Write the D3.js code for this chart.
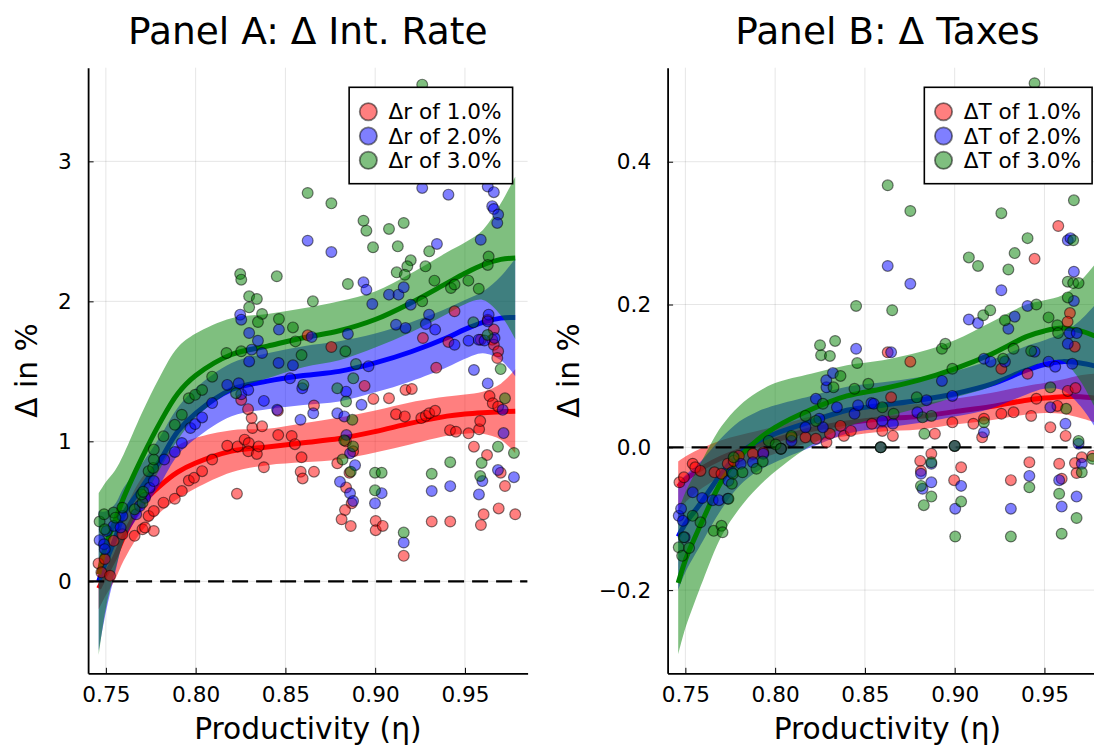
<!DOCTYPE html>
<html>
<head>
<meta charset="utf-8">
<script src="https://cdn.jsdelivr.net/npm/d3@7"></script>
<style>
    body { margin: 0; background: #fff; }
    svg { display: block; font-family: "DejaVu Sans", sans-serif; }
</style>
</head>
<body>
<div id="chart"></div>
<script>
// ---------- data ----------
const seriesColors = ["#ff0000", "#0000ff", "#008000"];
const rateLabels = ["Δr of 1.0%", "Δr of 2.0%", "Δr of 3.0%"];
const taxLabels = ["ΔT of 1.0%", "ΔT of 2.0%", "ΔT of 3.0%"];

const etaTicks = [0.75, 0.80, 0.85, 0.90, 0.95];
const rateTicks = [0, 1, 2, 3];
const taxTicks = [-0.2, 0.0, 0.2, 0.4];

// smoothed fits: mean and half width of the ribbon at these productivity knots
const etaKnots = [0.746, 0.75, 0.755, 0.76, 0.77, 0.78, 0.79, 0.80, 0.82, 0.84, 0.86, 0.88, 0.90, 0.92, 0.94, 0.95, 0.96, 0.97, 0.978];

const rateFit1 = [-0.05, 0.05, 0.17, 0.32, 0.55, 0.68, 0.78, 0.845, 0.93, 0.96, 0.99, 1.02, 1.07, 1.13, 1.18, 1.195, 1.205, 1.212, 1.215];
const rateBand1 = [0.15, 0.15, 0.16, 0.17, 0.19, 0.19, 0.19, 0.18, 0.15, 0.13, 0.14, 0.15, 0.15, 0.15, 0.14, 0.14, 0.15, 0.20, 0.30];
const rateFit2 = [0.0, 0.14, 0.30, 0.48, 0.67, 0.86, 1.07, 1.20, 1.37, 1.43, 1.47, 1.50, 1.56, 1.64, 1.74, 1.80, 1.85, 1.88, 1.885];
const rateBand2 = [0.50, 0.36, 0.25, 0.19, 0.17, 0.17, 0.17, 0.18, 0.19, 0.20, 0.21, 0.215, 0.21, 0.21, 0.21, 0.21, 0.22, 0.30, 0.42];
const rateFit3 = [0.05, 0.26, 0.43, 0.60, 0.88, 1.13, 1.34, 1.47, 1.62, 1.68, 1.74, 1.79, 1.87, 1.99, 2.13, 2.20, 2.26, 2.30, 2.31];
const rateBand3 = [0.58, 0.45, 0.36, 0.31, 0.32, 0.33, 0.33, 0.30, 0.26, 0.23, 0.21, 0.21, 0.20, 0.21, 0.22, 0.22, 0.25, 0.40, 0.58];

const taxFit1 = [-0.055, -0.045, -0.036, -0.028, -0.015, -0.005, 0.003, 0.010, 0.025, 0.034, 0.040, 0.043, 0.050, 0.057, 0.066, 0.069, 0.071, 0.071, 0.069];
const taxBand1 = [0.035, 0.032, 0.030, 0.028, 0.025, 0.022, 0.020, 0.019, 0.018, 0.018, 0.018, 0.018, 0.018, 0.019, 0.020, 0.021, 0.024, 0.030, 0.034];
const taxFit2 = [-0.125, -0.107, -0.090, -0.073, -0.037, -0.009, 0.008, 0.019, 0.036, 0.052, 0.059, 0.066, 0.075, 0.088, 0.108, 0.116, 0.120, 0.118, 0.114];
const taxBand2 = [0.075, 0.068, 0.062, 0.057, 0.050, 0.045, 0.042, 0.040, 0.036, 0.033, 0.032, 0.032, 0.032, 0.034, 0.034, 0.034, 0.040, 0.060, 0.085];
const taxFit3 = [-0.19, -0.158, -0.128, -0.10, -0.048, -0.014, 0.010, 0.028, 0.053, 0.072, 0.082, 0.094, 0.110, 0.130, 0.155, 0.163, 0.167, 0.163, 0.156];
const taxBand3 = [0.10, 0.095, 0.09, 0.085, 0.077, 0.072, 0.067, 0.062, 0.050, 0.043, 0.040, 0.039, 0.040, 0.045, 0.045, 0.043, 0.046, 0.070, 0.10];

// simulated observations [productivity, change]
const rateObs1 = [
    [0.7459,0.128],[0.7475,0.064],[0.7494,0.159],[0.7523,0.04],[0.7543,0.289],[0.7592,0.336],[0.766,0.325],[0.7704,0.372],
    [0.7718,0.384],[0.7767,0.36],[0.7738,0.467],[0.7767,0.502],[0.7821,0.562],[0.7884,0.59],[0.7923,0.645],[0.7962,0.72],
    [0.7991,0.739],[0.8036,0.787],[0.8092,0.87],[0.8176,0.969],[0.823,0.626],[0.8234,0.964],[0.8273,1.012],[0.8296,0.988],
    [0.8293,0.929],[0.8341,0.91],[0.8351,0.964],[0.8316,1.095],[0.8312,1.166],[0.8292,1.23],[0.8254,1.296],[0.837,1.107],
    [0.838,0.815],[0.8458,1.218],[0.846,1.045],[0.8535,1.038],[0.8553,0.98],[0.859,0.886],[0.8585,0.783],[0.8596,0.735],
    [0.8659,0.783],[0.8659,1.256],[0.8624,1.757],[0.8756,1.674],[0.8789,0.843],[0.8857,0.775],[0.8838,0.67],[0.8869,0.557],
    [0.8832,0.509],[0.8813,0.443],[0.8864,0.395],[0.8877,0.929],[0.8837,1.0],[0.8941,1.396],[0.899,1.303],[0.9003,0.431],
    [0.9003,0.365],[0.9042,0.396],[0.9077,1.308],[0.9116,1.194],[0.9165,1.178],[0.9159,0.182],[0.9169,1.367],[0.9204,1.374],
    [0.9257,1.166],[0.9282,1.182],[0.9301,1.201],[0.9334,1.218],[0.9266,1.738],[0.9315,0.427],[0.934,1.526],[0.9418,0.427],
    [0.9408,1.71],[0.9442,1.929],[0.9417,1.08],[0.945,1.069],[0.952,1.057],[0.9579,1.086],[0.9585,1.145],[0.955,0.962],
    [0.9623,0.902],[0.9604,0.479],[0.9589,0.402],[0.9588,1.726],[0.9627,1.869],[0.9661,1.798],[0.9652,1.726],[0.9661,1.69],
    [0.9685,1.643],[0.968,1.595],[0.9637,1.323],[0.9655,1.272],[0.9685,1.249],[0.9699,0.776],[0.9723,0.681],[0.9688,0.521],
    [0.978,0.479]
];
const rateObs2 = [
    [0.7465,0.294],[0.749,0.265],[0.7494,0.23],[0.7504,0.36],[0.7543,0.396],[0.7582,0.384],[0.7592,0.467],[0.7669,0.479],
    [0.7689,0.538],[0.7718,0.597],[0.7743,0.668],[0.7767,0.716],[0.7825,0.87],[0.7884,0.924],[0.7923,0.988],[0.7971,1.095],
    [0.7997,1.123],[0.8036,1.171],[0.8092,1.273],[0.8176,1.403],[0.824,1.415],[0.8254,1.336],[0.8293,1.367],[0.838,1.289],
    [0.8454,1.225],[0.8526,1.45],[0.8584,1.154],[0.8594,1.379],[0.8655,1.2],[0.8789,1.2],[0.8828,1.178],[0.884,1.045],
    [0.886,0.914],[0.8888,0.83],[0.8804,0.711],[0.886,0.629],[0.8877,0.573],[0.8924,1.261],[0.8838,1.355],[0.8999,0.557],
    [0.9036,0.63],[0.9159,0.277],[0.9315,0.645],[0.9418,0.68],[0.9578,0.621],[0.9597,0.716],[0.9684,0.795],[0.9773,0.744],
    [0.971,1.225],[0.9715,1.059],[0.9627,1.414],[0.955,1.51],[0.8624,2.433],[0.8756,2.352],[0.9262,2.81],[0.9408,2.762],
    [0.9627,2.82],[0.9661,2.78],[0.9652,2.68],[0.9661,2.66],[0.9685,2.62],[0.968,2.56],[0.9344,2.41],[0.9588,2.44],
    [0.8935,2.136],[0.8951,2.083],[0.9077,2.048],[0.913,2.048],[0.9159,2.10],[0.9198,1.976],[0.8984,1.981],[0.93,1.905],
    [0.8248,1.905],[0.8254,1.869],[0.9116,1.833],[0.9169,1.81],[0.9282,1.838],[0.8848,1.767],[0.9334,1.798],[0.9442,1.69],
    [0.952,1.719],[0.9577,1.726],[0.9609,1.72],[0.9632,1.905],[0.9627,1.857],[0.9665,1.738],[0.8464,1.798],[0.8646,1.745],
    [0.8298,1.774],[0.8347,1.719],[0.8312,1.655],[0.837,1.631],[0.8298,1.571],[0.8462,1.56],[0.8542,1.543],[0.8963,1.536]
];
const rateObs3 = [
    [0.7465,0.427],[0.749,0.479],[0.7494,0.372],[0.7543,0.491],[0.7553,0.455],[0.7592,0.526],[0.766,0.514],[0.7704,0.562],
    [0.7698,0.621],[0.7708,0.64],[0.7738,0.787],[0.7763,0.81],[0.7767,0.87],[0.7767,0.941],[0.7821,1.036],[0.7884,1.118],
    [0.7923,1.19],[0.7962,1.308],[0.7997,1.332],[0.8036,1.367],[0.8092,1.462],[0.8225,1.344],[0.86,1.403],[0.8789,1.379],
    [0.8838,1.284],[0.8873,1.154],[0.8828,1.007],[0.8877,0.964],[0.8818,0.87],[0.8864,0.783],[0.8999,0.776],[0.9036,0.776],
    [0.8999,0.65],[0.9159,0.348],[0.9315,0.768],[0.9418,0.851],[0.9593,0.846],[0.9585,0.752],[0.9684,0.962],[0.9723,1.307],
    [0.9773,0.917],[0.9699,1.516],[0.9547,1.85],[0.9626,1.76],[0.8624,2.774],[0.8756,2.70],[0.9262,3.548],[0.8935,2.576],
    [0.8951,2.505],[0.9077,2.517],[0.9159,2.56],[0.8988,2.386],[0.9126,2.393],[0.9198,2.293],[0.9179,2.25],[0.9301,2.357],
    [0.912,2.207],[0.928,2.25],[0.9165,2.19],[0.8452,2.179],[0.8248,2.195],[0.8254,2.155],[0.8848,2.124],[0.933,2.148],
    [0.9262,2.0],[0.8653,2.0],[0.8298,2.036],[0.8341,2.017],[0.8298,1.957],[0.837,1.91],[0.8347,1.852],[0.8464,1.874],
    [0.8542,1.814],[0.8556,1.714],[0.8834,1.643],[0.8172,1.631],[0.8254,1.643],[0.859,1.616],[0.8878,1.45],[0.8893,1.552],
    [0.9422,2.095],[0.9519,2.148],[0.9577,2.09],[0.9442,2.12],[0.9632,2.32],[0.9627,2.26]
];

const taxObs1 = [
    [0.7467,-0.049],[0.7492,-0.042],[0.7541,-0.023],[0.7555,-0.028],[0.7584,-0.033],[0.7662,-0.035],[0.7701,-0.037],[0.7736,-0.023],
    [0.7769,-0.019],[0.7798,-0.012],[0.7876,-0.009],[0.7934,-0.007],[0.8032,-0.002],[0.8091,0.014],[0.8169,0.014],[0.8227,0.012],
    [0.8286,0.007],[0.8305,0.019],[0.8364,0.03],[0.8383,0.016],[0.8422,0.023],[0.8539,0.033],[0.8588,0.0],[0.8597,0.023],
    [0.8656,0.016],[0.8646,0.07],[0.8627,0.133],[0.8753,0.12],[0.8808,-0.019],[0.8812,-0.033],[0.887,-0.009],[0.889,0.019],
    [0.8987,0.035],[0.9,0.002],[0.8997,-0.046],[0.9036,-0.028],[0.9104,0.033],[0.9153,0.014],[0.9163,0.04],[0.926,0.047],
    [0.926,0.11],[0.9313,-0.046],[0.9328,0.049],[0.9416,-0.021],[0.9426,0.044],[0.9406,0.103],[0.9445,0.264],[0.9455,0.068],
    [0.9533,0.028],[0.9572,0.058],[0.9577,0.31],[0.9582,-0.023],[0.9596,-0.044],[0.9618,0.016],[0.963,0.079],[0.9642,0.188],
    [0.9629,0.176],[0.9669,0.141],[0.9673,0.083],[0.9679,-0.036],[0.9708,-0.014],[0.9767,-0.012],[0.967,-0.022]
];
const taxObs2 = [
    [0.7463,-0.096],[0.7486,-0.103],[0.7476,-0.086],[0.7496,-0.126],[0.7541,-0.063],[0.7594,-0.071],[0.7652,-0.074],[0.7687,-0.074],
    [0.7736,-0.072],[0.774,-0.047],[0.7759,-0.035],[0.7808,-0.023],[0.7876,-0.021],[0.7934,-0.009],[0.8032,-0.002],[0.8091,0.009],
    [0.8169,0.028],[0.8227,0.068],[0.8246,0.04],[0.8266,0.028],[0.8286,0.084],[0.8285,0.094],[0.8322,0.104],[0.8344,0.056],
    [0.8442,0.047],[0.8462,0.059],[0.8451,0.138],[0.8536,0.062],[0.8549,0.061],[0.8588,0.0],[0.8597,0.037],[0.8656,0.033],
    [0.8646,0.133],[0.8627,0.254],[0.8753,0.229],[0.8792,0.049],[0.8843,0.066],[0.8812,-0.037],[0.8821,-0.058],[0.887,-0.049],
    [0.887,-0.023],[0.8929,0.093],[0.8987,0.072],[0.9,0.002],[0.9003,-0.086],[0.9036,-0.054],[0.9079,0.179],[0.913,0.174],
    [0.9163,0.021],[0.9163,0.124],[0.92,0.12],[0.926,0.22],[0.928,0.12],[0.9299,0.166],[0.9313,-0.086],[0.9334,0.183],
    [0.9406,0.198],[0.9416,-0.04],[0.9445,0.134],[0.9523,0.12],[0.9533,0.056],[0.956,0.113],[0.9582,-0.046],[0.9596,-0.083],
    [0.9617,0.033],[0.963,0.29],[0.9645,0.293],[0.9664,0.246],[0.9664,0.205],[0.964,0.16],[0.968,0.16],[0.963,0.145],
    [0.9655,0.117],[0.9679,-0.069],[0.9708,-0.023],[0.969,0.005]
];
const taxObs3 = [
    [0.7463,-0.14],[0.7482,-0.152],[0.7521,-0.141],[0.7491,-0.126],[0.7541,-0.096],[0.7584,-0.105],[0.7658,-0.117],[0.7701,-0.11],
    [0.7707,-0.119],[0.774,-0.072],[0.7759,-0.051],[0.7765,-0.037],[0.7769,-0.014],[0.7818,-0.035],[0.7896,-0.03],[0.7931,-0.02],
    [0.7964,0.009],[0.8003,0.004],[0.8032,-0.002],[0.8091,0.016],[0.8169,0.044],[0.8227,0.037],[0.8266,0.061],[0.8325,0.084],
    [0.8364,0.1],[0.825,0.143],[0.8256,0.129],[0.8305,0.128],[0.8334,0.149],[0.8442,0.082],[0.8457,0.118],[0.8451,0.198],
    [0.8519,0.089],[0.8588,0.0],[0.8597,0.056],[0.866,0.047],[0.8627,0.367],[0.8652,0.192],[0.8753,0.331],[0.8789,0.07],
    [0.8821,0.042],[0.8831,0.019],[0.887,0.044],[0.8812,-0.054],[0.8828,-0.081],[0.887,-0.069],[0.887,-0.021],[0.8929,0.138],
    [0.8948,0.145],[0.8987,0.11],[0.9,0.002],[0.9003,-0.125],[0.9036,-0.076],[0.9079,0.266],[0.913,0.254],[0.9159,0.185],
    [0.9163,0.035],[0.9198,0.192],[0.926,0.328],[0.927,0.124],[0.928,0.178],[0.9299,0.249],[0.9313,-0.125],[0.9328,0.138],
    [0.9334,0.272],[0.9406,0.293],[0.9416,-0.056],[0.9426,0.135],[0.9445,0.51],[0.9455,0.2],[0.9523,0.182],[0.9533,0.084],
    [0.9572,0.171],[0.9576,0.16],[0.9582,-0.065],[0.9596,-0.121],[0.9621,0.054],[0.966,0.29],[0.963,0.232],[0.966,0.23],
    [0.969,0.23],[0.963,0.21],[0.9664,0.346],[0.9679,-0.099],[0.9708,-0.035],[0.969,0.009],[0.9767,-0.016]
];

// ---------- layout ----------
const width = 1094, height = 748;
const plotTop = 67.7, plotBottom = 673.3, plotW = 439.5;
const etaDomain = [0.7401, 0.9849];
const font = {title: 37.5, guide: 29.7, tick: 21.6, legend: 21.6};

const svg = d3.select("#chart")
    .append("svg")
    .attr("width", width)
    .attr("height", height);

function drawPanel(p) {
    const x = d3.scaleLinear().domain(etaDomain).range([p.left, p.left + plotW]);
    const y = d3.scaleLinear().domain(p.yDomain).range([plotBottom, plotTop]);
    const g = svg.append("g");

    const clipId = "clip-" + p.id;
    svg.append("clipPath").attr("id", clipId)
        .append("rect")
        .attr("x", p.left).attr("y", plotTop)
        .attr("width", plotW).attr("height", plotBottom - plotTop);

    // grid
    g.append("g").selectAll("line")
        .data(etaTicks).join("line")
        .attr("x1", d => x(d)).attr("x2", d => x(d))
        .attr("y1", plotTop).attr("y2", plotBottom)
        .attr("stroke", "rgba(0,0,0,0.1)").attr("stroke-width", 1);
    g.append("g").selectAll("line")
        .data(p.yTicks).join("line")
        .attr("x1", p.left).attr("x2", p.left + plotW)
        .attr("y1", d => y(d)).attr("y2", d => y(d))
        .attr("stroke", "rgba(0,0,0,0.1)").attr("stroke-width", 1);

    const plotArea = g.append("g").attr("clip-path", `url(#${clipId})`);

    // ribbons + fitted lines
    const area = d3.area()
        .x(d => x(d.eta))
        .y0(d => y(d.m - d.h))
        .y1(d => y(d.m + d.h))
        .curve(d3.curveCatmullRom);
    const line = d3.line()
        .x(d => x(d.eta))
        .y(d => y(d.m))
        .curve(d3.curveCatmullRom);

    p.fits.forEach((f, i) => {
        const rows = etaKnots.map((eta, k) => ({eta: eta, m: f[0][k], h: f[1][k]}));
        plotArea.append("path")
            .attr("d", area(rows))
            .attr("fill", seriesColors[i])
            .attr("fill-opacity", 0.5);
        plotArea.append("path")
            .attr("d", line(rows))
            .attr("fill", "none")
            .attr("stroke", seriesColors[i])
            .attr("stroke-width", 5);
    });

    // zero line
    plotArea.append("line")
        .attr("x1", p.left).attr("x2", p.left + plotW)
        .attr("y1", y(0)).attr("y2", y(0))
        .attr("stroke", "#000")
        .attr("stroke-width", 2.2)
        .attr("stroke-dasharray", "16 8");

    // scatter
    p.obs.forEach((pts, i) => {
        plotArea.append("g").selectAll("circle")
            .data(pts).join("circle")
            .attr("cx", d => x(d[0]))
            .attr("cy", d => y(d[1]))
            .attr("r", 5.4)
            .attr("fill", seriesColors[i])
            .attr("fill-opacity", 0.5)
            .attr("stroke", "rgba(0,0,0,0.5)")
            .attr("stroke-width", 1.2);
    });

    // axes (ticks point inward)
    const xAxis = g.append("g")
        .attr("transform", `translate(0,${plotBottom})`)
        .call(d3.axisBottom(x).tickValues(etaTicks).tickFormat(d3.format(".2f"))
            .tickSizeInner(-5.5).tickSizeOuter(0).tickPadding(13.4));
    const yAxis = g.append("g")
        .attr("transform", `translate(${p.left},0)`)
        .call(d3.axisLeft(y).tickValues(p.yTicks).tickFormat(p.yFormat)
            .tickSizeInner(-5.5).tickSizeOuter(0).tickPadding(16.4));
    [xAxis, yAxis].forEach(a => {
        a.select(".domain").attr("stroke", "#000").attr("stroke-width", 1.8);
        a.selectAll(".tick line").attr("stroke", "#000").attr("stroke-width", 1);
        a.selectAll("text")
            .attr("font-size", font.tick)
            .attr("font-family", "DejaVu Sans")
            .attr("fill", "#000");
    });

    // title and guides
    const cx = p.left + plotW / 2;
    g.append("text")
        .attr("x", cx).attr("y", 43.5)
        .attr("text-anchor", "middle")
        .attr("font-size", font.title)
        .text(p.title);
    g.append("text")
        .attr("x", cx).attr("y", 739)
        .attr("text-anchor", "middle")
        .attr("font-size", font.guide)
        .text("Productivity (η)");
    g.append("text")
        .attr("transform", `translate(${p.yLabelX},${(plotTop + plotBottom) / 2}) rotate(-90)`)
        .attr("text-anchor", "middle")
        .attr("font-size", font.guide)
        .text("Δ in %");

    // legend
    const lg = g.append("g");
    const box = lg.append("rect")
        .attr("fill", "#fff")
        .attr("stroke", "#000")
        .attr("stroke-width", 1.6);
    const rowY = [111.7, 136, 160.3];
    const texts = p.labels.map((lab, i) => lg.append("text")
        .attr("y", rowY[i] + 7.6)
        .attr("font-size", font.legend)
        .text(lab));
    const textW = d3.max(texts, t => t.node().getComputedTextLength());
    const boxRight = p.left + plotW - 15;
    const boxLeft = boxRight - 11 - textW - 39.4;
    box.attr("x", boxLeft).attr("y", 87.3)
        .attr("width", boxRight - boxLeft).attr("height", 96.4);
    texts.forEach(t => t.attr("x", boxLeft + 39.4));
    p.labels.forEach((lab, i) => {
        lg.append("circle")
            .attr("cx", boxLeft + 19.2)
            .attr("cy", rowY[i])
            .attr("r", 8.6)
            .attr("fill", seriesColors[i])
            .attr("fill-opacity", 0.5)
            .attr("stroke", "rgba(0,0,0,0.5)")
            .attr("stroke-width", 1.8);
    });
}

drawPanel({
    id: "rate",
    left: 88.1,
    yDomain: [-0.657, 3.669],
    yTicks: rateTicks,
    yFormat: d3.format("d"),
    yLabelX: 36.5,
    title: "Panel A: Δ Int. Rate",
    labels: rateLabels,
    fits: [[rateFit1, rateBand1], [rateFit2, rateBand2], [rateFit3, rateBand3]],
    obs: [rateObs1, rateObs2, rateObs3]
});

drawPanel({
    id: "tax",
    left: 667.6,
    yDomain: [-0.3165, 0.5317],
    yTicks: taxTicks,
    yFormat: d3.format(".1f"),
    yLabelX: 578.5,
    title: "Panel B: Δ Taxes",
    labels: taxLabels,
    fits: [[taxFit1, taxBand1], [taxFit2, taxBand2], [taxFit3, taxBand3]],
    obs: [taxObs1, taxObs2, taxObs3]
});
</script>
</body>
</html>
